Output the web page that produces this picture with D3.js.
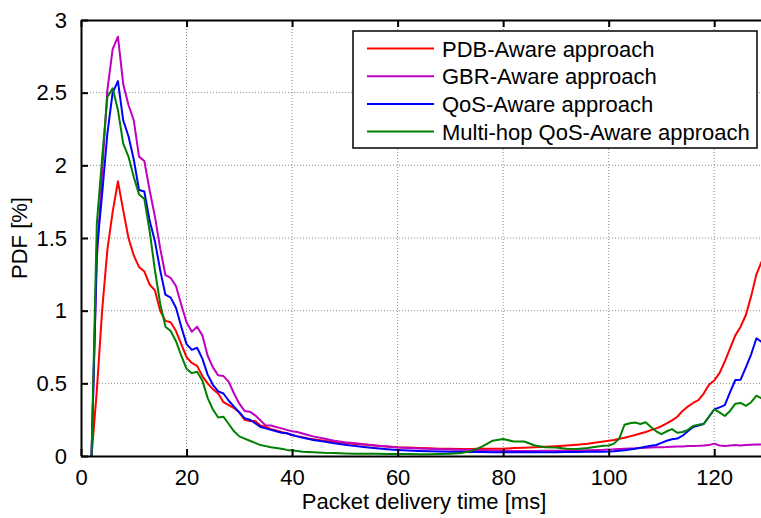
<!DOCTYPE html>
<html>
<head>
<meta charset="utf-8">
<script src="https://cdn.jsdelivr.net/npm/d3@7"></script>
<style>
  html, body { margin: 0; padding: 0; background: #fff; }
  svg { display: block; font-family: "Liberation Sans", Arial, sans-serif; }
</style>
</head>
<body>
<svg id="chart" width="761" height="518"></svg>
<script>
// ---------- data ----------
const seriesNames = ["PDB-Aware approach", "GBR-Aware approach", "QoS-Aware approach", "Multi-hop QoS-Aware approach"];
const seriesColors = ["#ff0000", "#c000c0", "#0000ff", "#008000"];

const delay = [2,3,4,5,6,7,8,9,10,11,12,13,14,15,16,17,18,19,20,21,22,23,24,25,26,27,28,29,30,31,32,33,34,35,36,37,38,39,40,41,42,43,44,
  46,48,50,52,54,56,58,60,62,64,66,68,70,72,74,76,78,80,82,84,86,88,90,92,94,96,98,
  99,100,101,102,103,104,105,106,107,108,109,110,111,112,113,114,115,116,117,118,119,120,121,122,123,124,125,126,127,128,129];

const pdbAware = [0,0.45,1.0,1.42,1.68,1.89,1.69,1.50,1.38,1.30,1.27,1.18,1.14,1.0,0.93,0.92,0.86,0.77,0.68,0.64,0.62,0.55,0.50,0.46,0.43,0.37,0.35,0.33,0.30,0.25,0.24,0.24,0.21,0.20,0.185,0.175,0.165,0.156,0.145,0.135,0.13,0.12,0.115,
  0.105,0.097,0.09,0.083,0.077,0.07,0.065,0.06,0.058,0.055,0.053,0.05,0.05,0.048,0.048,0.05,0.05,0.05,0.055,0.057,0.06,0.063,0.067,0.072,0.078,0.085,0.095,
  0.1,0.105,0.11,0.118,0.125,0.135,0.145,0.155,0.165,0.178,0.19,0.205,0.225,0.245,0.27,0.31,0.34,0.365,0.385,0.43,0.49,0.52,0.57,0.65,0.74,0.83,0.89,0.97,1.1,1.25,1.34];

const gbrAware = [0,1.35,1.95,2.52,2.80,2.885,2.56,2.415,2.31,2.06,2.03,1.83,1.65,1.43,1.245,1.225,1.17,1.04,0.92,0.855,0.89,0.83,0.69,0.61,0.555,0.55,0.51,0.43,0.36,0.31,0.305,0.28,0.245,0.21,0.21,0.2,0.19,0.18,0.17,0.165,0.155,0.145,0.135,
  0.12,0.105,0.095,0.088,0.08,0.072,0.065,0.058,0.055,0.052,0.05,0.047,0.045,0.043,0.041,0.04,0.038,0.036,0.035,0.035,0.035,0.036,0.036,0.037,0.038,0.04,0.042,
  0.043,0.045,0.046,0.048,0.05,0.052,0.053,0.055,0.056,0.058,0.06,0.061,0.062,0.064,0.065,0.066,0.068,0.069,0.07,0.072,0.075,0.085,0.072,0.068,0.073,0.075,0.072,0.076,0.078,0.079,0.08];

const qosAware = [0,1.42,1.8,2.22,2.50,2.58,2.31,2.20,2.04,1.83,1.82,1.62,1.48,1.28,1.11,1.09,1.02,0.89,0.77,0.73,0.745,0.67,0.56,0.49,0.445,0.43,0.38,0.34,0.30,0.26,0.25,0.225,0.20,0.19,0.18,0.17,0.16,0.157,0.145,0.135,0.125,0.118,0.11,
  0.1,0.088,0.078,0.068,0.06,0.053,0.047,0.042,0.038,0.035,0.033,0.031,0.03,0.029,0.028,0.027,0.026,0.025,0.025,0.025,0.025,0.025,0.026,0.027,0.028,0.029,0.03,
  0.03,0.031,0.033,0.036,0.04,0.045,0.05,0.057,0.064,0.07,0.076,0.09,0.105,0.115,0.12,0.14,0.17,0.2,0.21,0.22,0.27,0.32,0.335,0.35,0.44,0.523,0.525,0.61,0.7,0.81,0.785];

const multiHopQosAware = [0,1.6,2.05,2.47,2.53,2.38,2.15,2.06,1.92,1.80,1.77,1.55,1.28,1.05,0.89,0.86,0.79,0.69,0.6,0.57,0.58,0.52,0.40,0.32,0.265,0.27,0.22,0.17,0.135,0.12,0.105,0.09,0.075,0.068,0.06,0.055,0.05,0.042,0.038,0.034,0.03,0.028,0.026,
  0.022,0.02,0.018,0.016,0.015,0.015,0.014,0.014,0.013,0.012,0.012,0.013,0.015,0.02,0.035,0.065,0.105,0.117,0.1,0.1,0.072,0.06,0.058,0.05,0.048,0.055,0.065,
  0.07,0.072,0.085,0.12,0.215,0.225,0.23,0.22,0.232,0.2,0.17,0.15,0.17,0.185,0.16,0.165,0.18,0.206,0.215,0.22,0.27,0.32,0.3,0.275,0.31,0.36,0.365,0.345,0.37,0.415,0.395];

const xTicks = [0, 20, 40, 60, 80, 100, 120];
const yTicks = [0, 0.5, 1, 1.5, 2, 2.5, 3];
const xLabel = "Packet delivery time [ms]";
const yLabel = "PDF [%]";

// ---------- layout ----------
const svg = d3.select("#chart");
const pLeft = 81, pRight = 767, pTop = 20, pBottom = 456;

const x = d3.scaleLinear().domain([0, 130]).range([pLeft, pRight]);
const y = d3.scaleLinear().domain([0, 3]).range([pBottom, pTop]);

// grid
const grid = svg.append("g").attr("stroke", "#8c8c8c").attr("stroke-width", 1).attr("stroke-dasharray", "1,2");
xTicks.slice(1).forEach(t => {
  grid.append("line").attr("x1", x(t)).attr("x2", x(t)).attr("y1", pTop).attr("y2", pBottom);
});
yTicks.slice(1, -1).forEach(t => {
  grid.append("line").attr("x1", pLeft).attr("x2", pRight).attr("y1", y(t)).attr("y2", y(t));
});

// series
const allSeries = [pdbAware, gbrAware, qosAware, multiHopQosAware];
const line = d3.line().x(d => x(d[0])).y(d => y(d[1]));
svg.append("defs").append("clipPath").attr("id", "clip")
  .append("rect").attr("x", pLeft).attr("y", pTop - 2).attr("width", pRight - pLeft).attr("height", pBottom - pTop + 2);
const lines = svg.append("g").attr("clip-path", "url(#clip)");
allSeries.forEach((s, i) => {
  lines.append("path")
    .datum(delay.map((d, j) => [d, s[j]]))
    .attr("d", line)
    .attr("fill", "none")
    .attr("stroke", seriesColors[i])
    .attr("stroke-width", 2)
    .attr("stroke-linejoin", "round");
});

// axes
const xAxisB = d3.axisBottom(x).tickValues(xTicks).tickSizeInner(-7).tickSizeOuter(0).tickPadding(13).tickFormat(d3.format("d"));
const gxb = svg.append("g").attr("transform", `translate(0,${pBottom})`).call(xAxisB);
const xAxisT = d3.axisTop(x).tickValues(xTicks).tickSizeInner(-7).tickSizeOuter(0).tickFormat("");
const gxt = svg.append("g").attr("transform", `translate(0,${pTop})`).call(xAxisT);
const yAxisL = d3.axisLeft(y).tickValues(yTicks).tickSizeInner(-7).tickSizeOuter(0).tickPadding(14).tickFormat(d => d3.format("")(d));
const gyl = svg.append("g").attr("transform", `translate(${pLeft},0)`).call(yAxisL);

[gxb, gxt, gyl].forEach(g => {
  g.select(".domain").attr("stroke", "#000").attr("stroke-width", 2);
  g.selectAll(".tick line").attr("stroke", "#000").attr("stroke-width", 2);
  g.selectAll(".tick text").attr("fill", "#000").style("font-size", "22px").style("font-family", "Liberation Sans, Arial, sans-serif");
});

// axis titles
svg.append("text")
  .attr("x", 424).attr("y", 509)
  .attr("text-anchor", "middle")
  .style("font-size", "22px")
  .text(xLabel);
svg.append("text")
  .attr("transform", `translate(27,238) rotate(-90)`)
  .attr("text-anchor", "middle")
  .style("font-size", "22px")
  .text(yLabel);

// legend
const lg = svg.append("g");
lg.append("rect").attr("x", 353).attr("y", 31).attr("width", 404).attr("height", 117)
  .attr("fill", "#fff").attr("stroke", "#000").attr("stroke-width", 1.5);
seriesNames.forEach((n, i) => {
  const yy = 48.5 + i * 27.7;
  lg.append("line").attr("x1", 367).attr("x2", 434).attr("y1", yy).attr("y2", yy)
    .attr("stroke", seriesColors[i]).attr("stroke-width", 2);
  lg.append("text").attr("x", 442).attr("y", yy + 8)
    .style("font-size", "22px").text(n);
});
</script>
</body>
</html>
